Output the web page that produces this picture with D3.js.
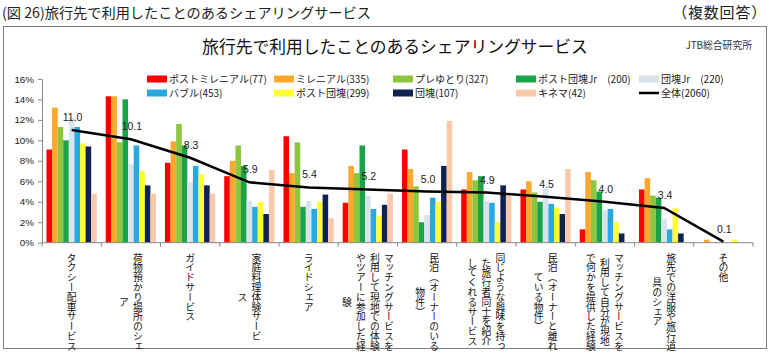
<!DOCTYPE html>
<html><head><meta charset="utf-8">
<script src="https://cdn.jsdelivr.net/npm/d3@7"></script>
<style>
body{margin:0;background:#fff;}
svg{display:block;}
text{font-family:"Noto Sans CJK JP","Noto Sans",sans-serif;}
</style></head>
<body><svg id="c" width="775" height="355"></svg>
<script>
const categories = [
  "タクシー配車サービス",
  "荷物預かり場所のシェ\nア",
  "ガイドサービス",
  "家庭料理体験サービ\nス",
  "ライドシェア",
  "マッチングサービスを\n利用して現地での体験\nやツアーに参加した経\n験",
  "民泊（オーナーのいる\n物件）",
  "同じような興味を持っ\nた旅行者同士を紹介\nしてくれるサービス",
  "民泊（オーナーと離れ\nている物件）",
  "マッチングサービスを\n利用して自分が現地\nで何かを提供した経験",
  "旅先での洋服や旅行道\n具のシェア",
  "その他"
];
const seriesNames = ["ポストミレニアル(77)","ミレニアル(335)","プレゆとり(327)","ポスト団塊Jr　(200)","団塊Jr　(220)","バブル(453)","ポスト団塊(299)","団塊(107)","キネマ(42)"];
const seriesColors = ["#FF0000","#FBA92E","#8DC63F","#1BA349","#D9E3EE","#29A9E1","#FFFF33","#0E2352","#F8C9AA"];
const postMillennial = [9.1,14.3,7.8,6.5,10.4,3.9,9.1,5.2,5.2,1.3,5.2,0];
const millennial     = [13.2,14.3,9.9,8.0,6.8,7.5,7.2,6.9,6.0,6.9,6.3,0.3];
const preYutori      = [11.3,9.8,11.6,9.5,9.8,6.8,5.5,6.1,4.9,6.1,4.6,0];
const postDankaiJr   = [10.0,14.0,9.5,7.5,3.5,9.5,2.0,6.5,4.0,5.0,4.4,0];
const dankaiJr       = [12.2,7.7,5.9,4.1,4.1,4.6,2.7,4.1,5.3,3.2,2.3,0.1];
const bubble         = [11.3,9.5,7.5,3.5,3.3,3.3,4.4,3.9,3.8,3.3,1.3,0];
const postDankai     = [9.7,7.0,6.7,4.0,4.0,2.6,4.0,2.0,3.4,2.0,3.4,0.3];
const dankai         = [9.4,5.6,5.6,2.8,4.7,3.7,7.5,5.6,2.8,0.9,0.9,0];
const kinema         = [4.8,4.8,4.8,7.1,2.4,4.8,11.9,4.6,7.2,0,0,0];
const overallName = "全体(2060)";
const overall        = [11.0,10.1,8.3,5.9,5.4,5.2,5.0,4.9,4.5,4.0,3.4,0.1];
const yTicks = [0,2,4,6,8,10,12,14,16];

const seriesValues = [postMillennial,millennial,preYutori,postDankaiJr,dankaiJr,bubble,postDankai,dankai,kinema];

const svg = d3.select("#c");
svg.append("rect").attr("x",3.5).attr("y",26.5).attr("width",763).attr("height",322)
  .attr("fill","none").attr("stroke","#808080").attr("stroke-width",1);

svg.append("text").attr("x",2).attr("y",18).attr("font-size",14.2).attr("fill","#222")
  .text("(図 26)旅行先で利用したことのあるシェアリングサービス");
svg.append("text").attr("x",767).attr("y",18).attr("text-anchor","end").attr("font-size",15).attr("fill","#222")
  .attr("letter-spacing",0.8)
  .text("（複数回答）");
svg.append("text").attr("x",395).attr("y",53).attr("text-anchor","middle").attr("font-size",16.8).attr("fill","#111")
  .text("旅行先で利用したことのあるシェアリングサービス");
svg.append("text").attr("x",752).attr("y",49).attr("text-anchor","end").attr("font-size",9.8).attr("fill","#333")
  .text("JTB総合研究所");

const x0 = d3.scaleBand().domain(d3.range(categories.length)).range([42,753]).paddingInner(0).paddingOuter(0);
const x1 = d3.scaleBand().domain(d3.range(seriesNames.length)).range([0,x0.bandwidth()]).paddingInner(0).paddingOuter(0.8);
const y = d3.scaleLinear().domain([0,16]).range([242.7,78.9]);

const g = svg.append("g");
categories.forEach((c,ci)=>{
  seriesValues.forEach((arr,si)=>{
    const v = arr[ci];
    if(v<=0) return;
    g.append("rect").attr("x",x0(ci)+x1(si)).attr("width",x1.bandwidth())
      .attr("y",y(v)).attr("height",y(0)-y(v)).attr("fill",seriesColors[si]);
  });
});

const yAxis = svg.append("g").attr("transform","translate(42,0)")
  .call(d3.axisLeft(y).tickValues(yTicks).tickFormat(d=>d+"%").tickSize(4).tickSizeOuter(0));
yAxis.select(".domain").attr("stroke","#888");
yAxis.selectAll(".tick line").attr("stroke","#888");
yAxis.selectAll(".tick text").attr("font-size",9.8).attr("fill","#222").attr("x",-8)
  .style("font-family","'Liberation Sans',Arial,sans-serif");

const xa = svg.append("g").attr("transform",`translate(0,${y(0)})`);
xa.append("line").attr("x1",42).attr("x2",753).attr("stroke","#888");
d3.range(categories.length+1).forEach(i=>{
  const xx = i<categories.length ? x0(i) : x0.range()[1];
  xa.append("line").attr("x1",xx).attr("x2",xx).attr("y1",0).attr("y2",4).attr("stroke","#888");
});

const cx = i=>x0(i)+x0.bandwidth()/2;
svg.append("path").datum(overall)
  .attr("d",d3.line().x((d,i)=>cx(i)).y(d=>y(d)))
  .attr("fill","none").attr("stroke","#000").attr("stroke-width",2.5);
svg.selectAll(".lbl").data(overall).enter().append("text")
  .attr("x",(d,i)=>cx(i)+1).attr("y",d=>y(d)-9).attr("text-anchor","middle")
  .attr("font-size",10.5).attr("fill","#222")
  .style("font-family","'Liberation Sans',Arial,sans-serif")
  .text(d=>d.toFixed(1));

const labelFs = 9.8, labelLh = 14, labelTop = 253;
categories.forEach((c,ci)=>{
  const lines = c.split("\n");
  const n = lines.length;
  const maxLen = d3.max(lines, l=>l.length)*labelFs;
  lines.forEach((l,li)=>{
    svg.append("text")
      .attr("x", cx(ci) + (n-1)/2*labelLh - li*labelLh)
      .attr("y", labelTop + maxLen/2)
      .attr("text-anchor","middle")
      .style("writing-mode","vertical-rl")
      .attr("font-size",labelFs).attr("fill","#111")
      .text(l);
  });
});

const legendItems = [
  {n:0,x:147,y:79},{n:1,x:274,y:79},{n:2,x:393,y:79},{n:3,x:516,y:79},{n:4,x:639,y:79},
  {n:5,x:147,y:93},{n:6,x:274,y:93},{n:7,x:393,y:93},{n:8,x:516,y:93},{n:9,x:639,y:93}
];
legendItems.forEach(it=>{
  const lg = svg.append("g");
  if(it.n<9){
    lg.append("rect").attr("x",it.x).attr("y",it.y-3.5).attr("width",20).attr("height",7).attr("fill",seriesColors[it.n]);
  } else {
    lg.append("line").attr("x1",it.x).attr("x2",it.x+20).attr("y1",it.y).attr("y2",it.y).attr("stroke","#000").attr("stroke-width",2.5);
  }
  lg.append("text").attr("x",it.x+22).attr("y",it.y+3.8).attr("font-size",10).attr("fill","#222")
    .text(it.n<9?seriesNames[it.n]:overallName);
});
</script></body></html>
